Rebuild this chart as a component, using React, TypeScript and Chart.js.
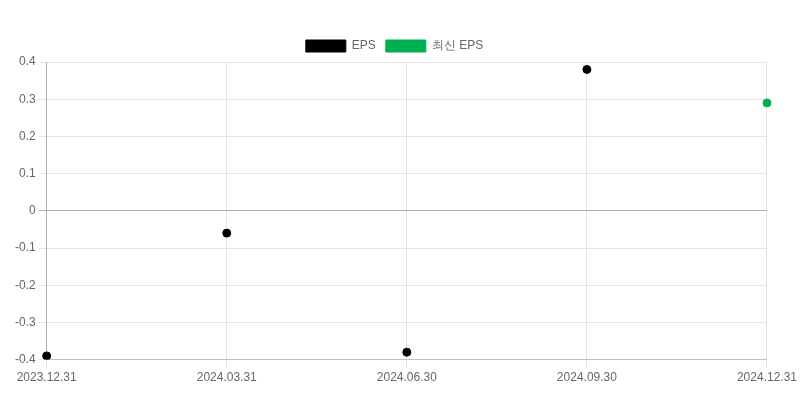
import { useEffect, useRef } from "react"
import { Chart, registerables } from "chart.js"

Chart.register(...registerables)

const labels = ["2023.12.31", "2024.03.31", "2024.06.30", "2024.09.30", "2024.12.31"]
const epsValues = [-0.39, -0.06, -0.38, 0.38, null]
const latestEpsValues = [null, null, null, null, 0.29]

export default function App() {
  const chartRef = useRef<HTMLCanvasElement>(null)
  const chartInstance = useRef<Chart | null>(null)

  useEffect(() => {
    document.body.style.margin = "0"
    if (!chartRef.current) return
    if (chartInstance.current) chartInstance.current.destroy()
    const ctx = chartRef.current.getContext("2d")
    if (!ctx) return

    chartInstance.current = new Chart(ctx, {
      type: "line",
      data: {
        labels,
        datasets: [
          {
            label: "EPS",
            data: epsValues,
            showLine: false,
            backgroundColor: "#000000",
            borderColor: "#000000",
            pointRadius: 4,
            borderWidth: 1,
          },
          {
            label: "최신 EPS",
            data: latestEpsValues,
            showLine: false,
            backgroundColor: "#00b050",
            borderColor: "#00b050",
            pointRadius: 4,
            borderWidth: 1,
          },
        ],
      },
      options: {
        animation: false,
        responsive: true,
        maintainAspectRatio: false,
        layout: { padding: { top: 30, left: 12, right: 23, bottom: 12 } },
        plugins: {
          legend: { display: true, position: "top" },
          tooltip: { enabled: false },
        },
        scales: {
          x: {
            grid: { color: "#e5e5e5" },
            border: { color: "#c0c0c0" },
            ticks: { maxRotation: 0 },
          },
          y: {
            min: -0.4,
            max: 0.4,
            ticks: { stepSize: 0.1 },
            grid: {
              color: (c) => (c.tick && c.tick.value === 0 ? "#b0b0b0" : "#e5e5e5"),
            },
            border: { color: "#b0b0b0" },
          },
        },
      },
    })

    return () => {
      if (chartInstance.current) chartInstance.current.destroy()
    }
  }, [])

  return (
    <div style={{ width: 800, height: 400 }}>
      <canvas ref={chartRef} />
    </div>
  )
}
